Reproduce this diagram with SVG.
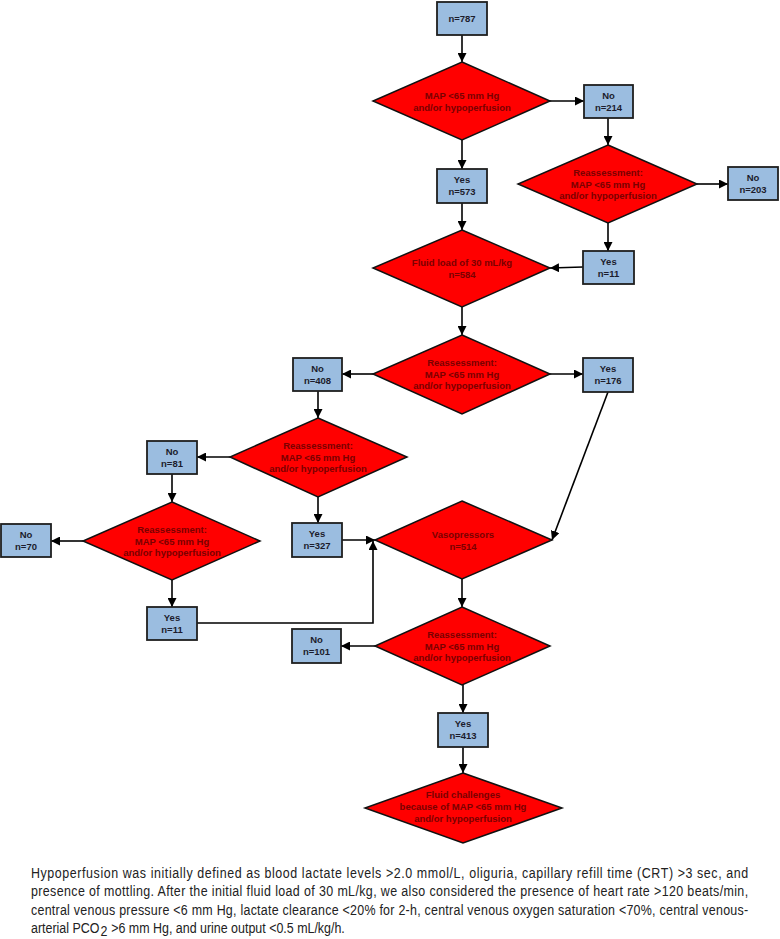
<svg xmlns="http://www.w3.org/2000/svg" width="780" height="939" viewBox="0 0 780 939">
<style>
.box{fill:#9bbde0;stroke:#1e1e1e;stroke-width:1.8}
.dia{fill:#ff0000;stroke:#111;stroke-width:1.5}
.bt{font-family:"Liberation Sans",Arial,sans-serif;font-weight:bold;font-size:9.5px;fill:#1c1c2c;text-anchor:middle}
.dt{font-family:"Liberation Sans",Arial,sans-serif;font-weight:bold;font-size:9.5px;fill:#7a0000;text-anchor:middle}
.ln{fill:none;stroke:#000;stroke-width:1.6}
.cap{font-family:"Liberation Sans",Arial,sans-serif;font-size:15px;fill:#222}
</style>
<defs>
<marker id="ah" viewBox="0 0 10 10" refX="10" refY="5" markerUnits="userSpaceOnUse" markerWidth="9" markerHeight="9" orient="auto">
<path d="M0,0 L10,5 L0,10 z" fill="#000"/>
</marker>
</defs>
<rect width="780" height="939" fill="#fff"/>

<g id="connectors">
<line class="ln" x1="462" y1="35" x2="462" y2="62" marker-end="url(#ah)"/>
<line class="ln" x1="550" y1="101" x2="584" y2="101" marker-end="url(#ah)"/>
<line class="ln" x1="608" y1="118" x2="608" y2="145" marker-end="url(#ah)"/>
<line class="ln" x1="697" y1="184" x2="728" y2="184" marker-end="url(#ah)"/>
<line class="ln" x1="462" y1="140" x2="462" y2="169" marker-end="url(#ah)"/>
<line class="ln" x1="608" y1="223" x2="608" y2="251" marker-end="url(#ah)"/>
<line class="ln" x1="583" y1="267" x2="550" y2="268" marker-end="url(#ah)"/>
<line class="ln" x1="462" y1="203" x2="462" y2="230" marker-end="url(#ah)"/>
<line class="ln" x1="462" y1="307" x2="462" y2="335" marker-end="url(#ah)"/>
<line class="ln" x1="373" y1="374" x2="342" y2="374" marker-end="url(#ah)"/>
<line class="ln" x1="550" y1="374" x2="583" y2="374" marker-end="url(#ah)"/>
<line class="ln" x1="318" y1="391" x2="318" y2="418" marker-end="url(#ah)"/>
<line class="ln" x1="230" y1="457" x2="197" y2="457" marker-end="url(#ah)"/>
<line class="ln" x1="318" y1="497" x2="318" y2="523" marker-end="url(#ah)"/>
<line class="ln" x1="172" y1="474" x2="172" y2="502" marker-end="url(#ah)"/>
<line class="ln" x1="83" y1="541" x2="51" y2="541" marker-end="url(#ah)"/>
<line class="ln" x1="172" y1="580" x2="172" y2="607" marker-end="url(#ah)"/>
<line class="ln" x1="342" y1="540" x2="375" y2="540" marker-end="url(#ah)"/>
<polyline class="ln" points="197,623 373,623 373,541" marker-end="url(#ah)"/>
<line class="ln" x1="608" y1="392" x2="552" y2="540" marker-end="url(#ah)"/>
<line class="ln" x1="462" y1="579" x2="462" y2="607" marker-end="url(#ah)"/>
<line class="ln" x1="375" y1="646" x2="341" y2="646" marker-end="url(#ah)"/>
<line class="ln" x1="463" y1="685" x2="463" y2="713" marker-end="url(#ah)"/>
<line class="ln" x1="463" y1="747" x2="463" y2="773" marker-end="url(#ah)"/>
</g>

<g id="n787"><rect class="box" x="437" y="2" width="50" height="33"/><text class="bt" x="462" y="22">n=787</text></g>

<g id="d1"><polygon class="dia" points="462,62 550,101 462,140 373,101"/>
<text class="dt" x="462" y="98.5">MAP &lt;65 mm Hg</text><text class="dt" x="462" y="110.5">and/or hypoperfusion</text></g>

<g id="no214"><rect class="box" x="584" y="85" width="49" height="33"/><text class="bt" x="608.5" y="98.5">No</text><text class="bt" x="608.5" y="110.5">n=214</text></g>

<g id="d2"><polygon class="dia" points="608,145 697,184 608,223 518,184"/>
<text class="dt" x="608" y="176">Reassessment:</text><text class="dt" x="608" y="187.5">MAP &lt;65 mm Hg</text><text class="dt" x="608" y="199">and/or hypoperfusion</text></g>

<g id="no203"><rect class="box" x="728" y="167" width="50" height="33"/><text class="bt" x="753" y="180.5">No</text><text class="bt" x="753" y="192.5">n=203</text></g>

<g id="yes573"><rect class="box" x="437" y="169" width="50" height="34"/><text class="bt" x="462" y="183">Yes</text><text class="bt" x="462" y="195">n=573</text></g>

<g id="yes11a"><rect class="box" x="583" y="251" width="51" height="33"/><text class="bt" x="608.5" y="264.5">Yes</text><text class="bt" x="608.5" y="276.5">n=11</text></g>

<g id="fluid"><polygon class="dia" points="462,230 550,268 462,307 373,268"/>
<text class="dt" x="462" y="265.5">Fluid load of 30 mL/kg</text><text class="dt" x="462" y="277.5">n=584</text></g>

<g id="d3"><polygon class="dia" points="462,335 550,374 462,414 373,374"/>
<text class="dt" x="462" y="366">Reassessment:</text><text class="dt" x="462" y="377.5">MAP &lt;65 mm Hg</text><text class="dt" x="462" y="389">and/or hypoperfusion</text></g>

<g id="no408"><rect class="box" x="293" y="358" width="49" height="33"/><text class="bt" x="317.5" y="371.5">No</text><text class="bt" x="317.5" y="383.5">n=408</text></g>

<g id="yes176"><rect class="box" x="583" y="358" width="50" height="34"/><text class="bt" x="608" y="372">Yes</text><text class="bt" x="608" y="384">n=176</text></g>

<g id="d4"><polygon class="dia" points="318,418 407,457 318,497 230,457"/>
<text class="dt" x="318" y="449">Reassessment:</text><text class="dt" x="318" y="460.5">MAP &lt;65 mm Hg</text><text class="dt" x="318" y="472">and/or hypoperfusion</text></g>

<g id="no81"><rect class="box" x="147" y="441" width="50" height="33"/><text class="bt" x="172" y="454.5">No</text><text class="bt" x="172" y="466.5">n=81</text></g>

<g id="d5"><polygon class="dia" points="172,502 260,541 172,580 83,541"/>
<text class="dt" x="172" y="533">Reassessment:</text><text class="dt" x="172" y="544.5">MAP &lt;65 mm Hg</text><text class="dt" x="172" y="556">and/or hypoperfusion</text></g>

<g id="no70"><rect class="box" x="1" y="524" width="50" height="33"/><text class="bt" x="26" y="537.5">No</text><text class="bt" x="26" y="549.5">n=70</text></g>

<g id="yes327"><rect class="box" x="292" y="523" width="50" height="34"/><text class="bt" x="317" y="537">Yes</text><text class="bt" x="317" y="549">n=327</text></g>

<g id="yes11b"><rect class="box" x="147" y="607" width="50" height="33"/><text class="bt" x="172" y="620.5">Yes</text><text class="bt" x="172" y="632.5">n=11</text></g>

<g id="vaso"><polygon class="dia" points="462,501 552,540 462,579 375,540"/>
<text class="dt" x="463" y="537.5">Vasopressors</text><text class="dt" x="463" y="549.5">n=514</text></g>

<g id="d6"><polygon class="dia" points="462,607 550,646 462,685 375,646"/>
<text class="dt" x="462" y="638">Reassessment:</text><text class="dt" x="462" y="649.5">MAP &lt;65 mm Hg</text><text class="dt" x="462" y="661">and/or hypoperfusion</text></g>

<g id="no101"><rect class="box" x="292" y="629" width="49" height="34"/><text class="bt" x="316.5" y="643">No</text><text class="bt" x="316.5" y="655">n=101</text></g>

<g id="yes413"><rect class="box" x="438" y="713" width="50" height="34"/><text class="bt" x="463" y="727">Yes</text><text class="bt" x="463" y="739">n=413</text></g>

<g id="final"><polygon class="dia" points="463,773 562,808 463,843 365,808"/>
<text class="dt" x="463" y="798">Fluid challenges</text><text class="dt" x="463" y="810">because of MAP &lt;65 mm Hg</text><text class="dt" x="463" y="821.5">and/or hypoperfusion</text></g>

<g id="caption" transform="scale(0.83,1)">
<text class="cap" x="37.35" y="878" textLength="864" lengthAdjust="spacing">Hypoperfusion was initially defined as blood lactate levels &gt;2.0 mmol/L, oliguria, capillary refill time (CRT) &gt;3 sec, and</text>
<text class="cap" x="37.35" y="896.5" textLength="864" lengthAdjust="spacing">presence of mottling. After the initial fluid load of 30 mL/kg, we also considered the presence of heart rate &gt;120 beats/min,</text>
<text class="cap" x="37.35" y="915" textLength="864" lengthAdjust="spacing">central venous pressure &lt;6 mm Hg, lactate clearance &lt;20% for 2-h, central venous oxygen saturation &lt;70%, central venous-</text>
<text class="cap" x="37.35" y="933.5">arterial PCO</text>
<text class="cap" x="121" y="936.5" font-size="9.5">2</text>
<text class="cap" x="134" y="933.5">&gt;6 mm Hg, and urine output &lt;0.5 mL/kg/h.</text>
</g>
</svg>
